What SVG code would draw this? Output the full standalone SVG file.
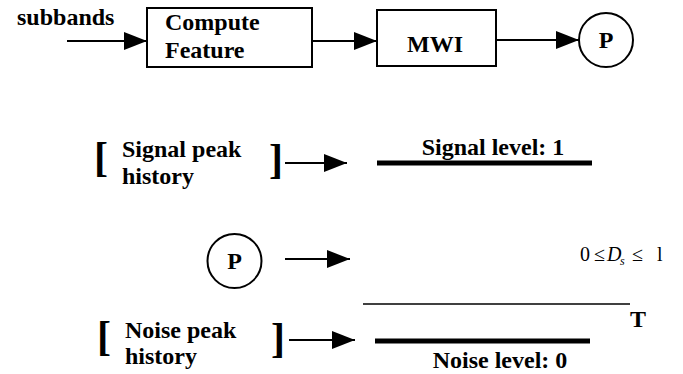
<svg xmlns="http://www.w3.org/2000/svg" width="683" height="374" viewBox="0 0 683 374">
<defs>
<marker id="ah" markerUnits="userSpaceOnUse" markerWidth="24" markerHeight="20" refX="23" refY="9" orient="auto">
<path d="M0,0 L23,9 L0,18 Z" fill="#000"/>
</marker>
<style>
.t{font-family:"Times New Roman","Liberation Serif","DejaVu Serif",serif;font-weight:bold;font-size:24px;fill:#000}
.br{font-family:"Times New Roman","Liberation Serif","DejaVu Serif",serif;font-weight:bold;font-size:42px;fill:#000}
.box{fill:#fff;stroke:#000;stroke-width:2}
.arr{stroke:#000;stroke-width:2;fill:none;marker-end:url(#ah)}
.lvl{stroke:#000;stroke-width:5}
.m{font-family:"Times New Roman","Liberation Serif","DejaVu Serif",serif;font-size:20px;fill:#000}
</style>
</defs>
<rect width="683" height="374" fill="#fff"/>
<g id="subbands"><text class="t" x="17" y="25">subbands</text></g>
<g id="compute"><rect class="box" x="147" y="8" width="165" height="59"/><text class="t" x="165" y="30">Compute</text><text class="t" x="165" y="58">Feature</text></g>
<g id="mwi"><rect class="box" x="377" y="10" width="119" height="56"/><text class="t" x="407" y="52">MWI</text></g>
<g id="p-top"><circle cx="606" cy="40" r="27" fill="#fff" stroke="#000" stroke-width="2"/><text class="t" x="606" y="48" text-anchor="middle">P</text></g>
<g id="signal-history"><text class="br" x="94" y="171">[</text><text class="t" x="122" y="157">Signal peak</text><text class="t" x="122" y="184">history</text><text class="br" x="269" y="173">]</text></g>
<g id="signal-level"><line class="lvl" x1="377" y1="163" x2="592" y2="163"/><text class="t" x="493" y="155" text-anchor="middle">Signal level: 1</text></g>
<g id="p-low"><circle cx="234.5" cy="261" r="27" fill="#fff" stroke="#000" stroke-width="2"/><text class="t" x="234.5" y="269" text-anchor="middle">P</text></g>
<g id="ds"><text class="m" y="261"><tspan x="580">0</tspan><tspan x="594">≤</tspan><tspan x="607" font-style="italic">D</tspan><tspan x="620" y="265" font-style="italic" font-size="12">s</tspan><tspan x="632" y="261">≤</tspan><tspan x="657">l</tspan></text></g>
<g id="threshold"><line x1="363" y1="304" x2="630" y2="304" stroke="#000" stroke-width="1.5"/><text class="t" x="630" y="327">T</text></g>
<g id="noise-history"><text class="br" x="97" y="350">[</text><text class="t" x="125" y="338">Noise peak</text><text class="t" x="125" y="364">history</text><text class="br" x="271" y="352">]</text></g>
<g id="noise-level"><line class="lvl" x1="375" y1="341" x2="590" y2="341"/><text class="t" x="500" y="368" text-anchor="middle">Noise level: 0</text></g>
<g id="connectors">
<line class="arr" x1="67" y1="41" x2="147" y2="41"/>
<line class="arr" x1="312" y1="41" x2="377" y2="41"/>
<line class="arr" x1="496" y1="40" x2="579" y2="40"/>
<line class="arr" x1="285" y1="163" x2="347" y2="163"/>
<line class="arr" x1="285" y1="259" x2="350" y2="259"/>
<line class="arr" x1="289" y1="340" x2="355" y2="340"/>
</g>
</svg>
